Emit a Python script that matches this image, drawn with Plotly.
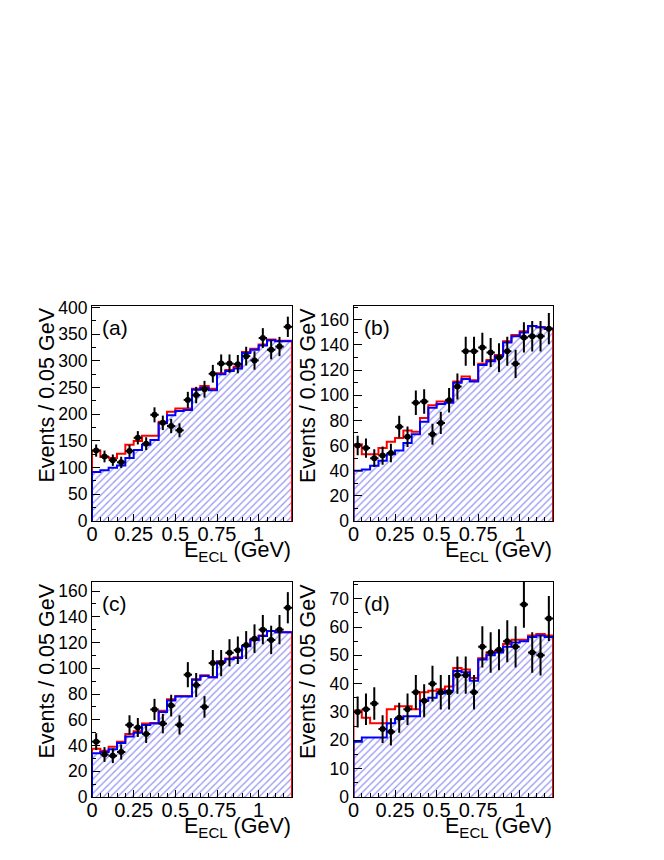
import numpy as np
import plotly.graph_objects as go

# bins: 24 x 0.05 GeV from 0 to 1.2
edges = np.round(np.arange(0, 1.2001, 0.05), 3)
centers = 0.5 * (edges[:-1] + edges[1:])

# panel (a)
data_a = [132, 121, 114, 110, 131, 156, 145, 199, 184, 178, 170, 227,
          236, 247, 276, 295, 295, 294, 309, 301, 343, 321, 327, 364]
fit_a = [132, 120, 118, 126, 143, 150, 160, 160, 186, 205, 211, 211,
         248, 253, 248, 277, 283, 289, 317, 323, 331, 340, 338, 338]
bkg_a = [92, 95, 100, 104, 118, 133, 143, 152, 183, 198, 206, 208,
         246, 250, 245, 275, 281, 286, 315, 321, 329, 339, 337, 337]

# panel (b)
data_b = [60, 58, 50, 52, 54, 75, 67, 94, 95, 69, 78, 96,
          107, 135, 135, 138, 134, 130, 135, 125, 146, 147, 147, 153]
fit_b = [61, 53, 53, 58, 63, 66, 72, 71, 82, 92, 95, 95,
         111, 115, 112, 125, 128, 132, 143, 148, 151, 155, 154, 153]
bkg_b = [40, 41, 44, 48, 53, 56, 62, 69, 79, 90, 93, 94,
         110, 113, 111, 124, 127, 131, 142, 147, 150, 155, 154, 153]

# panel (c)
data_c = [43, 33, 32, 35, 56, 54, 49, 68, 57, 71, 56, 95,
          87, 70, 104, 104, 112, 114, 118, 123, 130, 122, 130, 147]
fit_c = [37.5, 36, 39, 43, 49, 51, 57, 57.5, 67, 76, 78.5, 78.5,
         91.5, 94.5, 93, 105.5, 107.5, 108.5, 117.5, 122.5, 125.5, 129, 128, 128]
bkg_c = [34, 35, 37, 42, 47, 50, 56, 57, 66, 75, 78, 78,
         91, 94, 93, 105, 107, 108, 117, 122, 125, 129, 128, 128]

# panel (d)
data_d = [30, 31, 33, 24, 23, 28, 31, 37, 34, 40, 37, 37,
          43, 43, 37, 53, 51, 52, 55, 53, 68, 51, 50, 63]
fit_d = [30.5, 28, 26, 26, 31, 32, 32, 31, 37, 37.5, 38, 39,
         45.5, 45, 42, 49, 51, 51.5, 54, 55.5, 55.5, 57, 57.5, 57]
bkg_d = [19.5, 21, 21, 21, 26, 27.5, 28.5, 28.5, 34, 35, 36.5, 37.5,
         44.5, 44, 41, 48.5, 50, 51, 53, 54.5, 55, 56.5, 57, 56.5]

labels = ["(a)", "(b)", "(c)", "(d)"]
ymax = [403, 171, 167, 75.9]
ydtick = [50, 20, 20, 10]
yminor = [25, 10, 10, 5]
panels = [(data_a, fit_a, bkg_a), (data_b, fit_b, bkg_b),
          (data_c, fit_c, bkg_c), (data_d, fit_d, bkg_d)]

W, H = 664, 860
OFF = 8  # page body margin
# frame boxes in window pixels (left, right, top, bottom)
boxes = [(92, 292, 306, 521), (353.5, 553, 306, 521),
         (92, 292, 582, 797), (353.5, 553, 582, 797)]

FONT = "Liberation Sans, Arial, Helvetica, sans-serif"

fig = go.Figure()
layout = {}
annotations = []


def step(vals, close_left=True, close_right=True):
    xs = list(edges)
    ys = list(vals) + [vals[-1]]
    if close_left:
        xs = [0.0] + xs
        ys = [0.0] + ys
    if close_right:
        xs = xs + [edges[-1]]
        ys = ys + [0.0]
    return xs, ys


for i, (data, fit, bkg) in enumerate(panels):
    n = "" if i == 0 else str(i + 1)
    xa, ya = "x" + n, "y" + n
    l, r, t, b = [v - OFF for v in boxes[i]]

    # hatched background
    hx, hy = step(bkg, True, False)
    fig.add_trace(go.Scatter(
        x=hx, y=hy, xaxis=xa, yaxis=ya, mode="lines", line_shape="hv",
        line=dict(width=0), fill="tozeroy", fillcolor="rgba(0,0,0,0)",
        fillpattern=dict(shape="/", fgcolor="#2a2aee", bgcolor="white",
                         size=5, solidity=0.25),
        hoverinfo="skip", showlegend=False))

    # total fit (red)
    fx, fy = step(fit, True, True)
    fig.add_trace(go.Scatter(
        x=fx, y=fy, xaxis=xa, yaxis=ya, mode="lines", line_shape="hv",
        line=dict(color="#ff0000", width=2), showlegend=False))

    # background (blue)
    bx, by = step(bkg, True, False)
    fig.add_trace(go.Scatter(
        x=bx, y=by, xaxis=xa, yaxis=ya, mode="lines", line_shape="hv",
        line=dict(color="#0000ff", width=2), showlegend=False))

    # data points
    fig.add_trace(go.Scatter(
        x=centers, y=data, xaxis=xa, yaxis=ya, mode="markers",
        marker=dict(color="black", size=6),
        error_y=dict(type="data", array=np.sqrt(data), color="black",
                     thickness=2, width=0),
        error_x=dict(type="constant", value=0.025, color="black",
                     thickness=2, width=0),
        cliponaxis=True, showlegend=False))

    layout["xaxis" + n] = dict(
        domain=[l / W, r / W], anchor=ya, range=[0, 1.2], automargin=False,
        tickvals=[0, 0.25, 0.5, 0.75, 1], ticktext=["0", "0.25", "0.5", "0.75", "1"],
        ticks="inside", ticklen=7, tickcolor="black", ticklabelstandoff=-5,
        minor=dict(ticks="inside", ticklen=4, dtick=0.05, tick0=0, tickcolor="black"),
        showgrid=False, zeroline=False, showline=True, mirror=True,
        linecolor="black", linewidth=1,
        tickfont=dict(family=FONT, size=20, color="black"))
    layout["yaxis" + n] = dict(
        domain=[1 - b / H, 1 - t / H], anchor=xa, range=[0, ymax[i]], automargin=False,
        dtick=ydtick[i], tick0=0,
        ticks="inside", ticklen=8, tickcolor="black",
        minor=dict(ticks="inside", ticklen=4, dtick=yminor[i], tick0=0, tickcolor="black"),
        showgrid=False, zeroline=False, showline=True, mirror=True,
        linecolor="black", linewidth=1,
        tickfont=dict(family=FONT, size=17.5, color="black"))

    # panel label
    annotations.append(dict(
        text=labels[i], xref="paper", yref="paper", x=(l + 8) / W, y=1 - (t + 21) / H,
        xanchor="left", yanchor="middle", showarrow=False,
        font=dict(family=FONT, size=21, color="black")))
    # y title
    annotations.append(dict(
        text="Events / 0.05 GeV", xref="paper", yref="paper", x=(l - 46) / W,
        y=1 - (t + 0) / H, xanchor="center", yanchor="top", textangle=-90,
        showarrow=False, font=dict(family=FONT, size=21.5, color="black")))
    # x title
    annotations.append(dict(
        text="E<sub>ECL</sub> (GeV)", xref="paper", yref="paper", x=(r + 1) / W,
        y=1 - (b + 30) / H, xanchor="right", yanchor="middle",
        showarrow=False, font=dict(family=FONT, size=21.5, color="black")))

fig.update_layout(
    width=W, height=H, margin=dict(l=0, r=0, t=0, b=0),
    paper_bgcolor="white", plot_bgcolor="white",
    annotations=annotations, **layout)

fig.write_html("out.html")
